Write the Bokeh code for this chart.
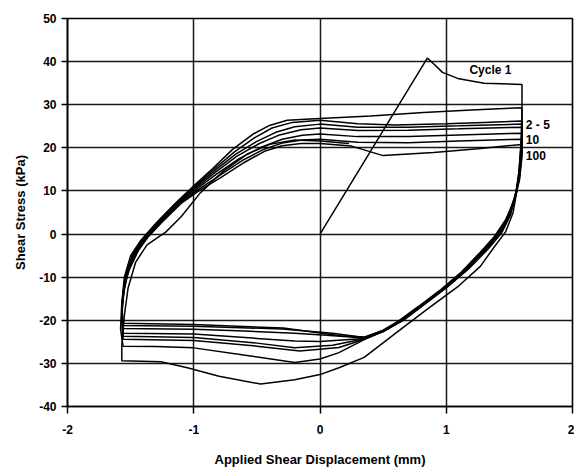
from bokeh.plotting import figure
from bokeh.models import Range1d, FixedTicker, Label
from bokeh.embed import file_html
from bokeh.resources import INLINE

# ---- data ----
x_ticks = [-2, -1, 0, 1, 2]
y_ticks = [-40, -30, -20, -10, 0, 10, 20, 30, 40, 50]

c1_x = [0.0, 0.85, 0.9, 0.97, 1.1, 1.3, 1.6, 1.6, 1.59, 1.57, 1.53, 1.47, 1.38, 1.27, 1.1, 0.85, 0.6, 0.35, 0.15, 0.0, -0.2, -0.47, -0.8, -1.05, -1.26, -1.57, -1.57, -1.55, -1.52, -1.46, -1.37, -1.22, -1.1, -0.95, -0.77, -0.58, -0.4, -0.2, 0.0, 0.23]
c1_y = [0.0, 40.8, 39.5, 37.5, 36.0, 35.0, 34.7, 28.0, 20.0, 12.0, 5.0, 0.5, -3.0, -7.5, -12.0, -17.4, -23.0, -28.6, -31.0, -32.6, -33.8, -34.8, -33.0, -31.0, -29.6, -29.4, -26.0, -19.0, -12.5, -6.5, -2.5, 0.5, 4.0, 9.5, 14.5, 18.5, 20.8, 21.8, 21.6, 21.0]

c2_x = [0.0, 0.4, 0.82, 1.2, 1.6, 1.6, 1.58, 1.56, 1.51, 1.44, 1.33, 1.18, 1.02, 0.84, 0.67, 0.5, 0.35, 0.15, 0.0, -0.2, -0.55, -1.0, -1.3, -1.56, -1.58, -1.57, -1.55, -1.5, -1.42, -1.3, -1.15, -1.0, -0.85, -0.69, -0.53, -0.4, -0.26, 0.0]
c2_y = [26.8, 27.4, 28.2, 28.8, 29.3, 24.0, 16.0, 10.0, 4.5, 0.3, -3.5, -8.0, -12.0, -16.0, -19.8, -22.5, -24.5, -27.5, -29.0, -29.8, -28.3, -26.4, -26.1, -26.0, -22.0, -16.0, -10.0, -5.0, -1.5, 2.5, 7.0, 11.2, 15.2, 19.7, 23.2, 25.2, 26.4, 26.8]

c3_x = [0.0, 0.3, 0.6, 1.0, 1.3, 1.6, 1.6, 1.58, 1.55, 1.5, 1.43, 1.32, 1.17, 1.01, 0.83, 0.66, 0.5, 0.35, 0.15, -0.16, -0.5, -1.0, -1.56, -1.57, -1.56, -1.54, -1.49, -1.41, -1.3, -1.15, -1.0, -0.85, -0.68, -0.52, -0.38, -0.22, 0.0]
c3_y = [26.4, 25.6, 25.3, 25.6, 25.9, 26.2, 22.0, 15.0, 9.5, 4.5, 0.2, -3.6, -8.2, -12.2, -16.2, -20.0, -22.6, -24.4, -26.3, -27.1, -26.0, -24.7, -24.4, -20.0, -15.0, -10.0, -5.0, -1.5, 2.3, 6.8, 10.9, 14.8, 19.0, 22.3, 24.6, 25.9, 26.4]

c4_x = [0.0, 0.3, 0.7, 1.1, 1.6, 1.6, 1.58, 1.55, 1.5, 1.42, 1.31, 1.16, 1.0, 0.82, 0.65, 0.5, 0.35, 0.1, -0.2, -0.5, -1.0, -1.56, -1.57, -1.56, -1.54, -1.48, -1.4, -1.29, -1.14, -0.99, -0.84, -0.67, -0.5, -0.35, -0.2, 0.0]
c4_y = [25.5, 24.8, 24.8, 25.1, 25.5, 21.5, 14.5, 9.0, 4.2, 0.0, -3.8, -8.4, -12.4, -16.4, -20.1, -22.6, -24.3, -25.8, -26.4, -25.3, -24.0, -23.7, -19.0, -14.0, -9.5, -4.8, -1.3, 2.4, 6.9, 10.9, 14.6, 18.5, 21.5, 23.6, 24.9, 25.5]

c5_x = [0.0, 0.3, 0.7, 1.1, 1.6, 1.6, 1.58, 1.55, 1.49, 1.41, 1.3, 1.15, 0.99, 0.81, 0.64, 0.5, 0.35, 0.0, -0.2, -0.5, -1.0, -1.56, -1.57, -1.56, -1.53, -1.47, -1.39, -1.28, -1.13, -0.99, -0.83, -0.66, -0.48, -0.32, -0.15, 0.0]
c5_y = [24.6, 24.0, 24.1, 24.4, 24.8, 21.0, 14.0, 8.8, 4.0, 0.0, -3.9, -8.5, -12.5, -16.5, -20.2, -22.6, -24.2, -24.9, -24.8, -24.2, -23.2, -23.0, -18.5, -13.5, -9.0, -4.5, -1.2, 2.5, 7.0, 10.6, 14.3, 18.0, 21.0, 23.0, 24.2, 24.6]

c10_x = [0.0, 0.3, 0.7, 1.1, 1.6, 1.6, 1.58, 1.54, 1.48, 1.4, 1.29, 1.14, 0.98, 0.8, 0.63, 0.5, 0.35, 0.05, -0.2, -0.6, -1.0, -1.56, -1.57, -1.55, -1.52, -1.46, -1.38, -1.27, -1.12, -0.98, -0.82, -0.64, -0.46, -0.3, -0.14, 0.0]
c10_y = [23.2, 22.6, 22.6, 23.0, 23.4, 20.0, 13.5, 8.3, 3.7, -0.2, -4.0, -8.6, -12.6, -16.6, -20.2, -22.5, -24.1, -23.5, -23.0, -22.5, -22.1, -21.9, -17.5, -13.0, -8.8, -4.3, -1.0, 2.6, 7.1, 10.4, 13.9, 17.5, 20.2, 22.0, 22.9, 23.2]

c50_x = [0.0, 0.3, 0.7, 1.1, 1.6, 1.6, 1.58, 1.54, 1.48, 1.39, 1.28, 1.13, 0.97, 0.79, 0.62, 0.5, 0.35, 0.1, -0.3, -1.0, -1.56, -1.57, -1.55, -1.52, -1.45, -1.37, -1.26, -1.11, -0.97, -0.8, -0.62, -0.45, -0.3, -0.14, 0.0]
c50_y = [22.0, 21.3, 21.2, 21.6, 22.0, 19.0, 13.0, 8.0, 3.5, -0.4, -4.1, -8.7, -12.7, -16.7, -20.3, -22.4, -24.0, -23.0, -22.0, -21.4, -21.2, -17.0, -12.5, -8.5, -4.1, -0.8, 2.7, 7.1, 10.2, 13.5, 17.0, 19.6, 21.1, 21.8, 22.0]

c100_x = [0.0, 0.25, 0.5, 0.9, 1.25, 1.6, 1.6, 1.58, 1.54, 1.47, 1.38, 1.27, 1.12, 0.96, 0.78, 0.61, 0.5, 0.35, 0.16, -0.29, -1.0, -1.56, -1.57, -1.55, -1.51, -1.44, -1.36, -1.25, -1.1, -0.96, -0.78, -0.6, -0.44, -0.3, -0.15, 0.0]
c100_y = [21.0, 20.4, 18.2, 18.9, 19.8, 20.8, 18.0, 12.5, 7.7, 3.3, -0.6, -4.2, -8.8, -12.8, -16.8, -20.4, -22.3, -23.9, -23.6, -21.8, -21.0, -20.7, -16.5, -12.0, -8.2, -3.9, -0.6, 2.8, 7.1, 10.0, 13.2, 16.6, 19.2, 20.5, 21.0, 21.0]

loops = [(c1_x, c1_y), (c2_x, c2_y), (c3_x, c3_y), (c4_x, c4_y), (c5_x, c5_y),
         (c10_x, c10_y), (c50_x, c50_y), (c100_x, c100_y)]

cycle_labels = ["Cycle 1", "2 - 5", "10", "100"]
label_x = [1.35, 1.63, 1.63, 1.63]
label_y = [38.0, 25.3, 22.0, 18.3]

FONT = "Liberation Sans"

p = figure(width=574, height=473, output_backend="svg", toolbar_location=None,
           x_range=Range1d(-2, 2), y_range=Range1d(-40, 50),
           min_border_left=67, min_border_right=2, min_border_top=18, min_border_bottom=67,
           background_fill_color="white", border_fill_color="white")

p.outline_line_color = "black"
p.outline_line_width = 1.6

for g in (p.xgrid, p.ygrid):
    g.grid_line_color = "black"
    g.grid_line_width = 1.5
    g.grid_line_alpha = 0.9
p.xgrid.ticker = FixedTicker(ticks=x_ticks)
p.ygrid.ticker = FixedTicker(ticks=y_ticks)

p.xaxis.ticker = FixedTicker(ticks=x_ticks)
p.yaxis.ticker = FixedTicker(ticks=y_ticks)
p.xaxis.major_label_overrides = {t: str(t) for t in x_ticks}
p.yaxis.major_label_overrides = {t: str(t) for t in y_ticks}
for ax in (p.xaxis[0], p.yaxis[0]):
    ax.axis_line_color = "black"
    ax.axis_line_width = 1.6
    ax.major_tick_line_color = "black"
    ax.major_tick_line_width = 1.5
    ax.major_tick_in = 0
    ax.minor_tick_line_color = None
    ax.major_label_text_font = FONT
    ax.major_label_text_font_style = "bold"
    ax.major_label_text_font_size = "12px"
    ax.major_label_text_color = "black"
    ax.axis_label_text_font = FONT
    ax.axis_label_text_font_style = "bold"
    ax.axis_label_text_font_size = "13px"
    ax.axis_label_text_color = "black"

p.xaxis.major_tick_out = 7
p.xaxis.major_label_standoff = 11
p.xaxis.axis_label = "Applied Shear Displacement (mm)"
p.xaxis.axis_label_standoff = 15

p.yaxis.major_tick_out = 6
p.yaxis.major_label_standoff = 5
p.yaxis.axis_label = "Shear Stress (kPa)"
p.yaxis.axis_label_standoff = 8

for xs, ys in loops:
    p.line(xs, ys, line_color="black", line_width=1.5)

for t, lx, ly in zip(cycle_labels, label_x, label_y):
    align = "center" if t == "Cycle 1" else "left"
    p.add_layout(Label(x=lx, y=ly, text=t, text_align=align, text_baseline="middle",
                       text_font=FONT, text_font_style="bold", text_font_size="12px",
                       text_color="black"))

open("out.html", "w").write(file_html(p, INLINE))
